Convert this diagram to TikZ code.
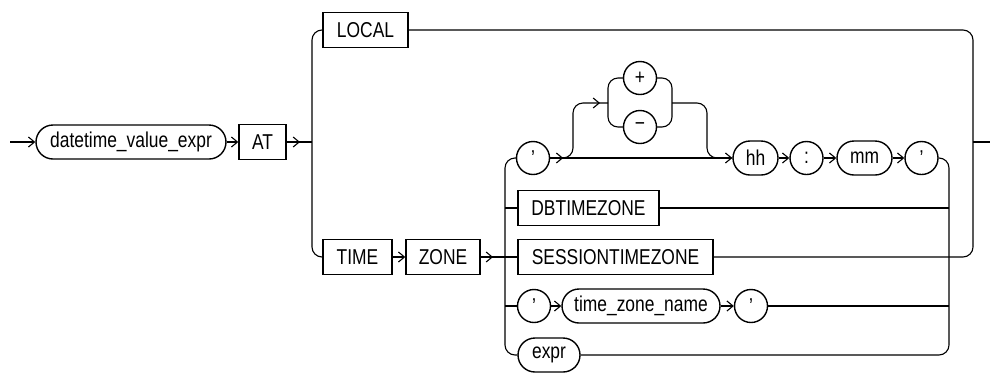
\documentclass[tikz,border=0pt]{standalone}
\usepackage{fontspec}
\setmainfont{Liberation Sans}[FakeStretch=0.81]
\usetikzlibrary{arrows.meta,decorations.markings}

\begin{document}
\begin{tikzpicture}[x=1pt,y=-1pt,font=\fontsize{21.5}{21.5}\selectfont,
                    >={Straight Barb[length=6pt,width=10pt]},
                    kw/.style={draw,line width=1.4pt,rectangle,inner sep=0pt,minimum height=35pt,minimum width=#1},
                    nt/.style={draw,line width=1.4pt,rectangle,rounded corners=17pt,inner sep=0pt,minimum height=34pt,minimum width=#1},
                    circ/.style={draw,line width=1.4pt,circle,inner sep=0pt,minimum size=33pt},
                    rail/.style={line width=1.1pt,rounded corners=10pt},
                    arw/.style={postaction={decorate,decoration={markings,mark=at position #1 with {\arrow{>}}}}}]

\useasboundingbox (0,0) rectangle (990,373);

%\draw [help lines,step=50] (0,0) grid (990,373);

\node[nt=190] (dve) at (131,142) {datetime\_value\_expr};
\node[kw=47] (at) at (262.5,142) {AT};
\node[kw=85] (local) at (365.5,30) {LOCAL};
\node[kw=69] (time) at (357.5,257) {TIME};
\node[kw=74] (zone) at (443,257) {ZONE};

\node[circ] (q1) at (533,158) {’};
\node[circ] (plus) at (640,78) {+};
\node[circ] (minus) at (640,127) {−};
\node[nt=45] (hh) at (755.5,158) {hh};
\node[circ] (colon) at (806.5,158) {:};
\node[nt=55] (mm) at (864.5,158) {mm};
\node[circ] (q2) at (921.5,158) {’};

\node[kw=141] (dbtz) at (588.5,208) {DBTIMEZONE};
\node[kw=195] (stz) at (615.5,257) {SESSIONTIMEZONE};
\node[circ] (q3) at (534,306) {’};
\node[nt=158] (tzn) at (641,306) {time\_zone\_name};
\node[circ] (q4) at (751,306) {’};
\node[nt=62] (expr) at (549,355) {expr};

\coordinate (start) at (10,142);
\coordinate (jL) at (312,142);
\coordinate (jR) at (973,142);
\coordinate (exit) at (990,142);
\coordinate (iL) at (505,257);
\coordinate (iR) at (949,257);
\coordinate (up) at (573,103);
\coordinate (pL) at (608,103);
\coordinate (pR) at (672,103);
\coordinate (down) at (707,158);

% main line
\draw[rail,->] (start) -- (dve.west);
\draw[rail,->] (dve) -- (at);
\draw[rail,arw=-12pt] (at) -- (jL);
\draw[rail] (local.west) -| (jL) |- (time.west);
\draw[rail,->] (time) -- (zone);
\draw[rail,arw=-12pt] (zone) -- (iL);
\draw[rail] (local.east) -| (jR) |- (stz.east);
\draw[rail] (jR) -- (exit);

% time zone choices
\draw[rail] (q1.west) -| (iL) |- (expr.west);
\draw[rail] (iL) -- (stz);
\draw[rail] (dbtz.west -| iL) -- (dbtz);
\draw[rail] (q3.west -| iL) -- (q3);
\draw[rail] (q2.east) -| (iR) |- (expr.east);
\draw[rail] (dbtz) -- (dbtz.east -| iR);
\draw[rail] (q4) -- (q4.east -| iR);
\draw[rail,->] (q3) -- (tzn);
\draw[rail,->] (tzn) -- (q4);

% offset
\draw[rail,arw=13pt,->] (q1) -- (hh);
\draw[rail,arw=-8pt] (q1.east) -| (up) -- (pL);
\draw[rail] (plus.west) -| (pL) |- (minus.west);
\draw[rail] (plus.east) -| (pR) |- (minus.east);
\draw[rail] (pR) -| (down) -- (hh.west);
\draw[rail,->] (hh) -- (colon);
\draw[rail,->] (colon) -- (mm);
\draw[rail,->] (mm) -- (q2);

\end{tikzpicture}
\end{document}
